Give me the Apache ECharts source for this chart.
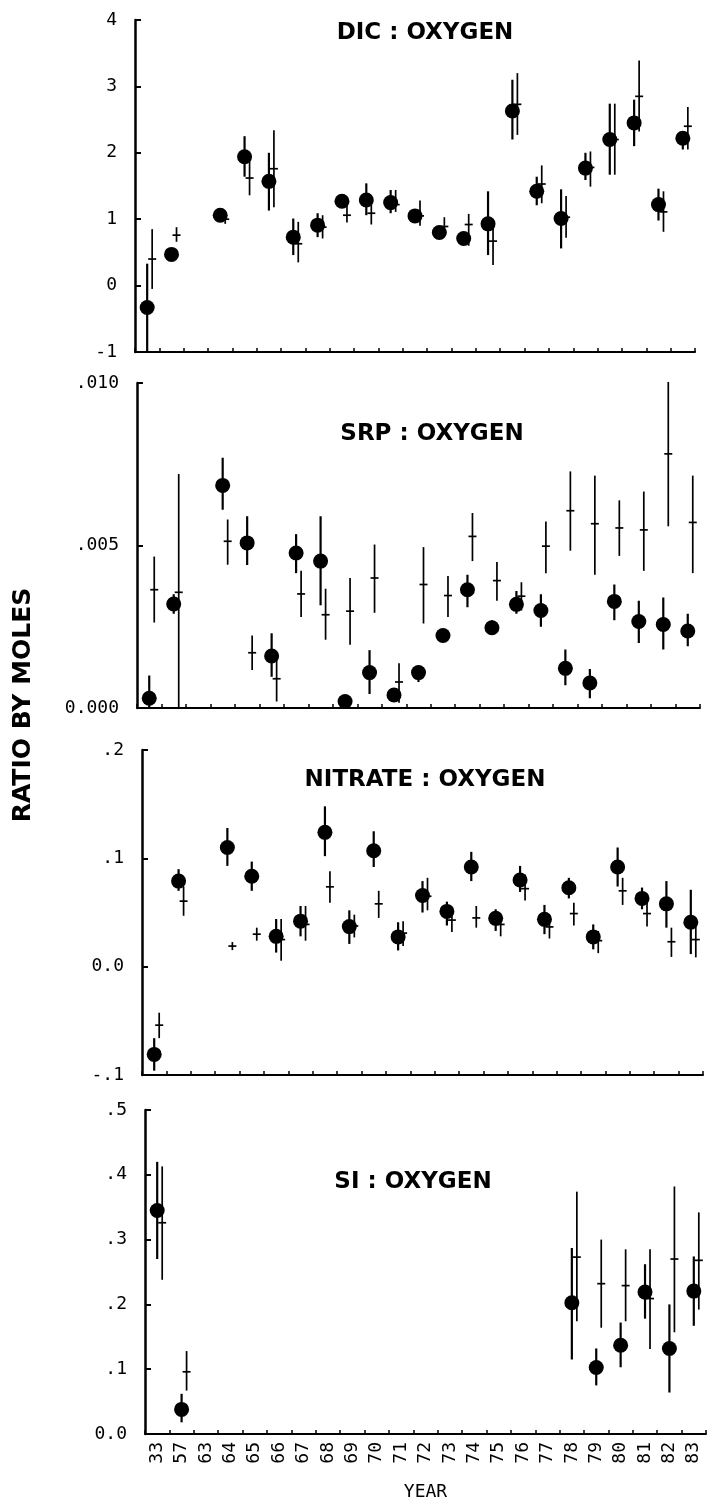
<!DOCTYPE html>
<html>
<head>
<meta charset="utf-8">
<title>Ratio by moles</title>
<script src="https://cdn.jsdelivr.net/npm/echarts@6/dist/echarts.min.js"></script>
<style>
  html, body { margin: 0; padding: 0; background: #fff; }
  #chart { width: 709px; height: 1502px; }
</style>
</head>
<body>
<div id="chart"></div>
<script>
const years = ["33", "57", "63", "64", "65", "66", "67", "68", "69", "70", "71", "72",
  "73", "74", "75", "76", "77", "78", "79", "80", "81", "82", "83"];

// tick labels, bottom to top
const dicTicks = ["-1", "0", "1", "2", "3", "4"];
const srpTicks = ["0.000", ".005", ".010"];
const nitTicks = ["-.1", "0.0", ".1", ".2"];
const siTicks = ["0.0", ".1", ".2", ".3", ".4", ".5"];

// DIC : OXYGEN  (filled circles / crosses, with low and high ends of the bars)
const dicDot   = [-0.33, 0.47, null, 1.06, 1.94, 1.57, 0.73, 0.91, 1.27, 1.29, 1.25, 1.05, 0.80, 0.71, 0.93, 2.63, 1.42, 1.01, 1.77, 2.20, 2.45, 1.22, 2.22];
const dicDotLo = [-1.00, 0.47, null, 1.00, 1.64, 1.13, 0.46, 0.73, 1.20, 1.06, 1.09, 0.95, 0.75, 0.62, 0.46, 2.20, 1.21, 0.56, 1.59, 1.67, 2.10, 0.98, 2.05];
const dicDotHi = [ 0.33, 0.47, null, 1.12, 2.25, 2.00, 1.01, 1.09, 1.35, 1.54, 1.44, 1.15, 0.85, 0.80, 1.42, 3.10, 1.64, 1.45, 2.00, 2.74, 2.80, 1.46, 2.32];
const dicPlus   = [0.40, 0.76, null, 1.00, 1.62, 1.76, 0.63, 0.88, 1.06, 1.09, 1.22, 1.05, 0.89, 0.92, 0.67, 2.73, 1.53, 1.03, 1.78, 2.20, 2.85, 1.11, 2.40];
const dicPlusLo = [-0.05, 0.66, null, 0.93, 1.36, 1.18, 0.35, 0.71, 0.95, 0.92, 1.11, 0.90, 0.80, 0.60, 0.31, 2.27, 1.24, 0.72, 1.49, 1.67, 2.32, 0.81, 2.05];
const dicPlusHi = [0.85, 0.88, null, 1.08, 1.93, 2.34, 0.96, 1.06, 1.21, 1.26, 1.44, 1.28, 1.03, 1.08, 0.91, 3.20, 1.81, 1.35, 2.02, 2.74, 3.39, 1.42, 2.69];

// SRP : OXYGEN
const srpDot   = [0.0003, 0.0032, null, 0.00685, 0.00508, 0.0016, 0.00477, 0.00452, 0.0002, 0.00109, 0.0004, 0.00109, 0.00223, 0.00364, 0.00247, 0.00319, 0.0030, 0.00122, 0.00077, 0.00328, 0.00266, 0.00257, 0.00237];
const srpDotLo = [0.0000, 0.0029, null, 0.0061, 0.0044, 0.00096, 0.00415, 0.00316, 0.0002, 0.00043, 0.0002, 0.0008, 0.0021, 0.0031, 0.0023, 0.0029, 0.0025, 0.0007, 0.0003, 0.0027, 0.0020, 0.0018, 0.0019];
const srpDotHi = [0.0010, 0.0035, null, 0.0077, 0.0059, 0.0023, 0.00535, 0.0059, 0.0002, 0.00178, 0.0006, 0.0013, 0.0024, 0.0041, 0.0027, 0.0036, 0.0035, 0.0018, 0.0012, 0.0038, 0.0033, 0.0034, 0.0029];
const srpPlus   = [0.00364, 0.00356, null, 0.00513, 0.0017, 0.0009, 0.00351, 0.00287, 0.00298, 0.0040, 0.0008, 0.0038, 0.00346, 0.00528, 0.00392, 0.00344, 0.00498, 0.00607, 0.00567, 0.00554, 0.00548, 0.00782, 0.00571];
const srpPlusLo = [0.00263, 0.0000, null, 0.00441, 0.00117, 0.0002, 0.0028, 0.0021, 0.00195, 0.00293, 0.00016, 0.0026, 0.0028, 0.00452, 0.0033, 0.0030, 0.00415, 0.00484, 0.0041, 0.00468, 0.00422, 0.00559, 0.00415];
const srpPlusHi = [0.00466, 0.0072, null, 0.0058, 0.00223, 0.0016, 0.00422, 0.00367, 0.0040, 0.00503, 0.00138, 0.00495, 0.00406, 0.0060, 0.00449, 0.00387, 0.00574, 0.00728, 0.00715, 0.00639, 0.00666, 0.01003, 0.00715];

// NITRATE : OXYGEN
const nitDot   = [-0.081, 0.079, null, 0.110, 0.0835, 0.028, 0.042, 0.124, 0.037, 0.107, 0.0275, 0.0657, 0.051, 0.092, 0.0446, 0.080, 0.0437, 0.0728, 0.0275, 0.092, 0.063, 0.058, 0.041];
const nitDotLo = [-0.096, 0.070, null, 0.093, 0.070, 0.013, 0.028, 0.102, 0.021, 0.092, 0.015, 0.050, 0.038, 0.079, 0.033, 0.069, 0.030, 0.063, 0.016, 0.074, 0.053, 0.036, 0.0116];
const nitDotHi = [-0.066, 0.090, null, 0.128, 0.097, 0.044, 0.056, 0.148, 0.052, 0.125, 0.041, 0.079, 0.060, 0.106, 0.053, 0.093, 0.057, 0.082, 0.039, 0.110, 0.073, 0.079, 0.071];
const nitPlus   = [-0.054, 0.0605, null, 0.019, 0.030, 0.025, 0.039, 0.0737, 0.0376, 0.058, 0.031, 0.065, 0.043, 0.045, 0.039, 0.072, 0.0367, 0.049, 0.024, 0.070, 0.049, 0.023, 0.025];
const nitPlusLo = [-0.066, 0.047, null, 0.016, 0.024, 0.0055, 0.024, 0.059, 0.027, 0.045, 0.019, 0.052, 0.032, 0.036, 0.028, 0.061, 0.026, 0.038, 0.0125, 0.057, 0.037, 0.009, 0.0086];
const nitPlusHi = [-0.0425, 0.074, null, 0.022, 0.036, 0.044, 0.056, 0.088, 0.048, 0.070, 0.042, 0.082, 0.050, 0.056, 0.045, 0.085, 0.048, 0.059, 0.033, 0.082, 0.062, 0.036, 0.042];

// SI : OXYGEN
const siDot   = [0.345, 0.038, null, null, null, null, null, null, null, null, null, null, null, null, null, null, null, 0.2026, 0.1026, 0.137, 0.219, 0.132, 0.2205];
const siDotLo = [0.270, 0.018, null, null, null, null, null, null, null, null, null, null, null, null, null, null, null, 0.115, 0.075, 0.103, 0.178, 0.064, 0.167];
const siDotHi = [0.420, 0.062, null, null, null, null, null, null, null, null, null, null, null, null, null, null, null, 0.287, 0.132, 0.172, 0.262, 0.200, 0.274];
const siPlus   = [0.326, 0.096, null, null, null, null, null, null, null, null, null, null, null, null, null, null, null, 0.273, 0.232, 0.229, 0.209, 0.270, 0.268];
const siPlusLo = [0.238, 0.067, null, null, null, null, null, null, null, null, null, null, null, null, null, null, null, 0.174, 0.164, 0.174, 0.131, 0.157, 0.192];
const siPlusHi = [0.413, 0.128, null, null, null, null, null, null, null, null, null, null, null, null, null, null, null, 0.374, 0.300, 0.285, 0.285, 0.382, 0.342];

const INK = "#000";
const MONO = "'DejaVu Sans Mono', monospace";
const BOLD = "'DejaVu Sans', sans-serif";
const PLUS_OFFSET = 5;

const panels = [
  { title: "DIC : OXYGEN", ticks: dicTicks, min: -1, max: 4, step: 1,
    dot: [dicDot, dicDotLo, dicDotHi], plus: [dicPlus, dicPlusLo, dicPlusHi],
    grid: { left: 135, top: 20, width: 560, height: 332 }, tx: 420, ty: 17 },
  { title: "SRP : OXYGEN", ticks: srpTicks, min: 0, max: 0.01, step: 0.005,
    dot: [srpDot, srpDotLo, srpDotHi], plus: [srpPlus, srpPlusLo, srpPlusHi],
    grid: { left: 137, top: 383, width: 563, height: 325 }, tx: 427, ty: 418 },
  { title: "NITRATE : OXYGEN", ticks: nitTicks, min: -0.1, max: 0.2, step: 0.1,
    dot: [nitDot, nitDotLo, nitDotHi], plus: [nitPlus, nitPlusLo, nitPlusHi],
    grid: { left: 142, top: 750, width: 561, height: 325 }, tx: 420, ty: 764 },
  { title: "SI : OXYGEN", ticks: siTicks, min: 0, max: 0.5, step: 0.1,
    dot: [siDot, siDotLo, siDotHi], plus: [siPlus, siPlusLo, siPlusHi],
    grid: { left: 145, top: 1110, width: 561, height: 325 }, tx: 408, ty: 1166 }
];

// rows of [category index, value, low, high], skipping missing years
function rows(triple) {
  const [v, lo, hi] = triple;
  const out = [];
  v.forEach((val, i) => {
    if (val !== null) out.push([i, val, lo[i], hi[i]]);
  });
  return out;
}

function renderDotBar(params, api) {
  const lo = api.coord([api.value(0), api.value(2)]);
  const hi = api.coord([api.value(0), api.value(3)]);
  return {
    type: "line",
    shape: { x1: lo[0], y1: lo[1], x2: hi[0], y2: hi[1] },
    style: { stroke: INK, lineWidth: 2.2 }
  };
}

function renderPlus(params, api) {
  const c = api.coord([api.value(0), api.value(1)]);
  const lo = api.coord([api.value(0), api.value(2)]);
  const hi = api.coord([api.value(0), api.value(3)]);
  const x = c[0] + PLUS_OFFSET;
  const top = Math.min(hi[1], c[1] - 4);
  const bot = Math.max(lo[1], c[1] + 4);
  return {
    type: "group",
    children: [
      { type: "line", shape: { x1: x, y1: top, x2: x, y2: bot }, style: { stroke: INK, lineWidth: 1.7 } },
      { type: "line", shape: { x1: x - 4, y1: c[1], x2: x + 4, y2: c[1] }, style: { stroke: INK, lineWidth: 1.7 } }
    ]
  };
}

const grids = [], xAxes = [], yAxes = [], series = [], titles = [];

panels.forEach((p, k) => {
  const last = k === panels.length - 1;
  grids.push(Object.assign({ containLabel: false }, p.grid));
  titles.push({
    text: p.title, left: p.tx, top: p.ty, textAlign: "center",
    textStyle: { fontFamily: BOLD, fontWeight: "bold", fontSize: 23, color: INK }
  });
  xAxes.push({
    type: "category", gridIndex: k, data: years, boundaryGap: true,
    axisLine: { onZero: false, lineStyle: { color: INK, width: 2 } },
    axisTick: { show: true, inside: true, length: 4, interval: 0, alignWithLabel: false,
      lineStyle: { color: INK, width: 1.5 } },
    axisLabel: { show: last, interval: 0, rotate: 90, margin: 8, fontFamily: MONO, fontSize: 18, color: INK },
    splitLine: { show: false },
    name: last ? "YEAR" : "", nameLocation: "middle", nameGap: 49,
    nameTextStyle: { fontFamily: MONO, fontSize: 18, color: INK }
  });
  yAxes.push({
    type: "value", gridIndex: k, min: p.min, max: p.max, interval: p.step,
    axisLine: { show: true, lineStyle: { color: INK, width: 2.5 } },
    axisTick: { show: true, inside: true, length: 6, lineStyle: { color: INK, width: 2 } },
    axisLabel: {
      margin: 18, fontFamily: MONO, fontSize: 18, color: INK,
      formatter: v => p.ticks[Math.round((v - p.min) / p.step)]
    },
    splitLine: { show: false }
  });
  const dotRows = rows(p.dot);
  series.push({
    type: "custom", xAxisIndex: k, yAxisIndex: k, renderItem: renderDotBar,
    encode: { x: 0, y: [1, 2, 3] }, data: dotRows, silent: true
  });
  series.push({
    type: "scatter", xAxisIndex: k, yAxisIndex: k, symbol: "circle", symbolSize: 15,
    itemStyle: { color: INK, opacity: 1 }, data: dotRows.map(r => [r[0], r[1]]), silent: true
  });
  series.push({
    type: "custom", xAxisIndex: k, yAxisIndex: k, renderItem: renderPlus,
    encode: { x: 0, y: [1, 2, 3] }, data: rows(p.plus), silent: true
  });
});

const chart = echarts.init(document.getElementById("chart"), null, { renderer: "canvas" });
chart.setOption({
  backgroundColor: "#fff",
  animation: false,
  title: titles,
  grid: grids,
  xAxis: xAxes,
  yAxis: yAxes,
  series: series,
  graphic: [{
    type: "text", x: 23, y: 705, rotation: Math.PI / 2,
    style: { text: "RATIO BY MOLES", fill: INK, font: "bold 25px 'DejaVu Sans', sans-serif",
      textAlign: "center", textVerticalAlign: "middle" }
  }]
});
</script>
</body>
</html>
